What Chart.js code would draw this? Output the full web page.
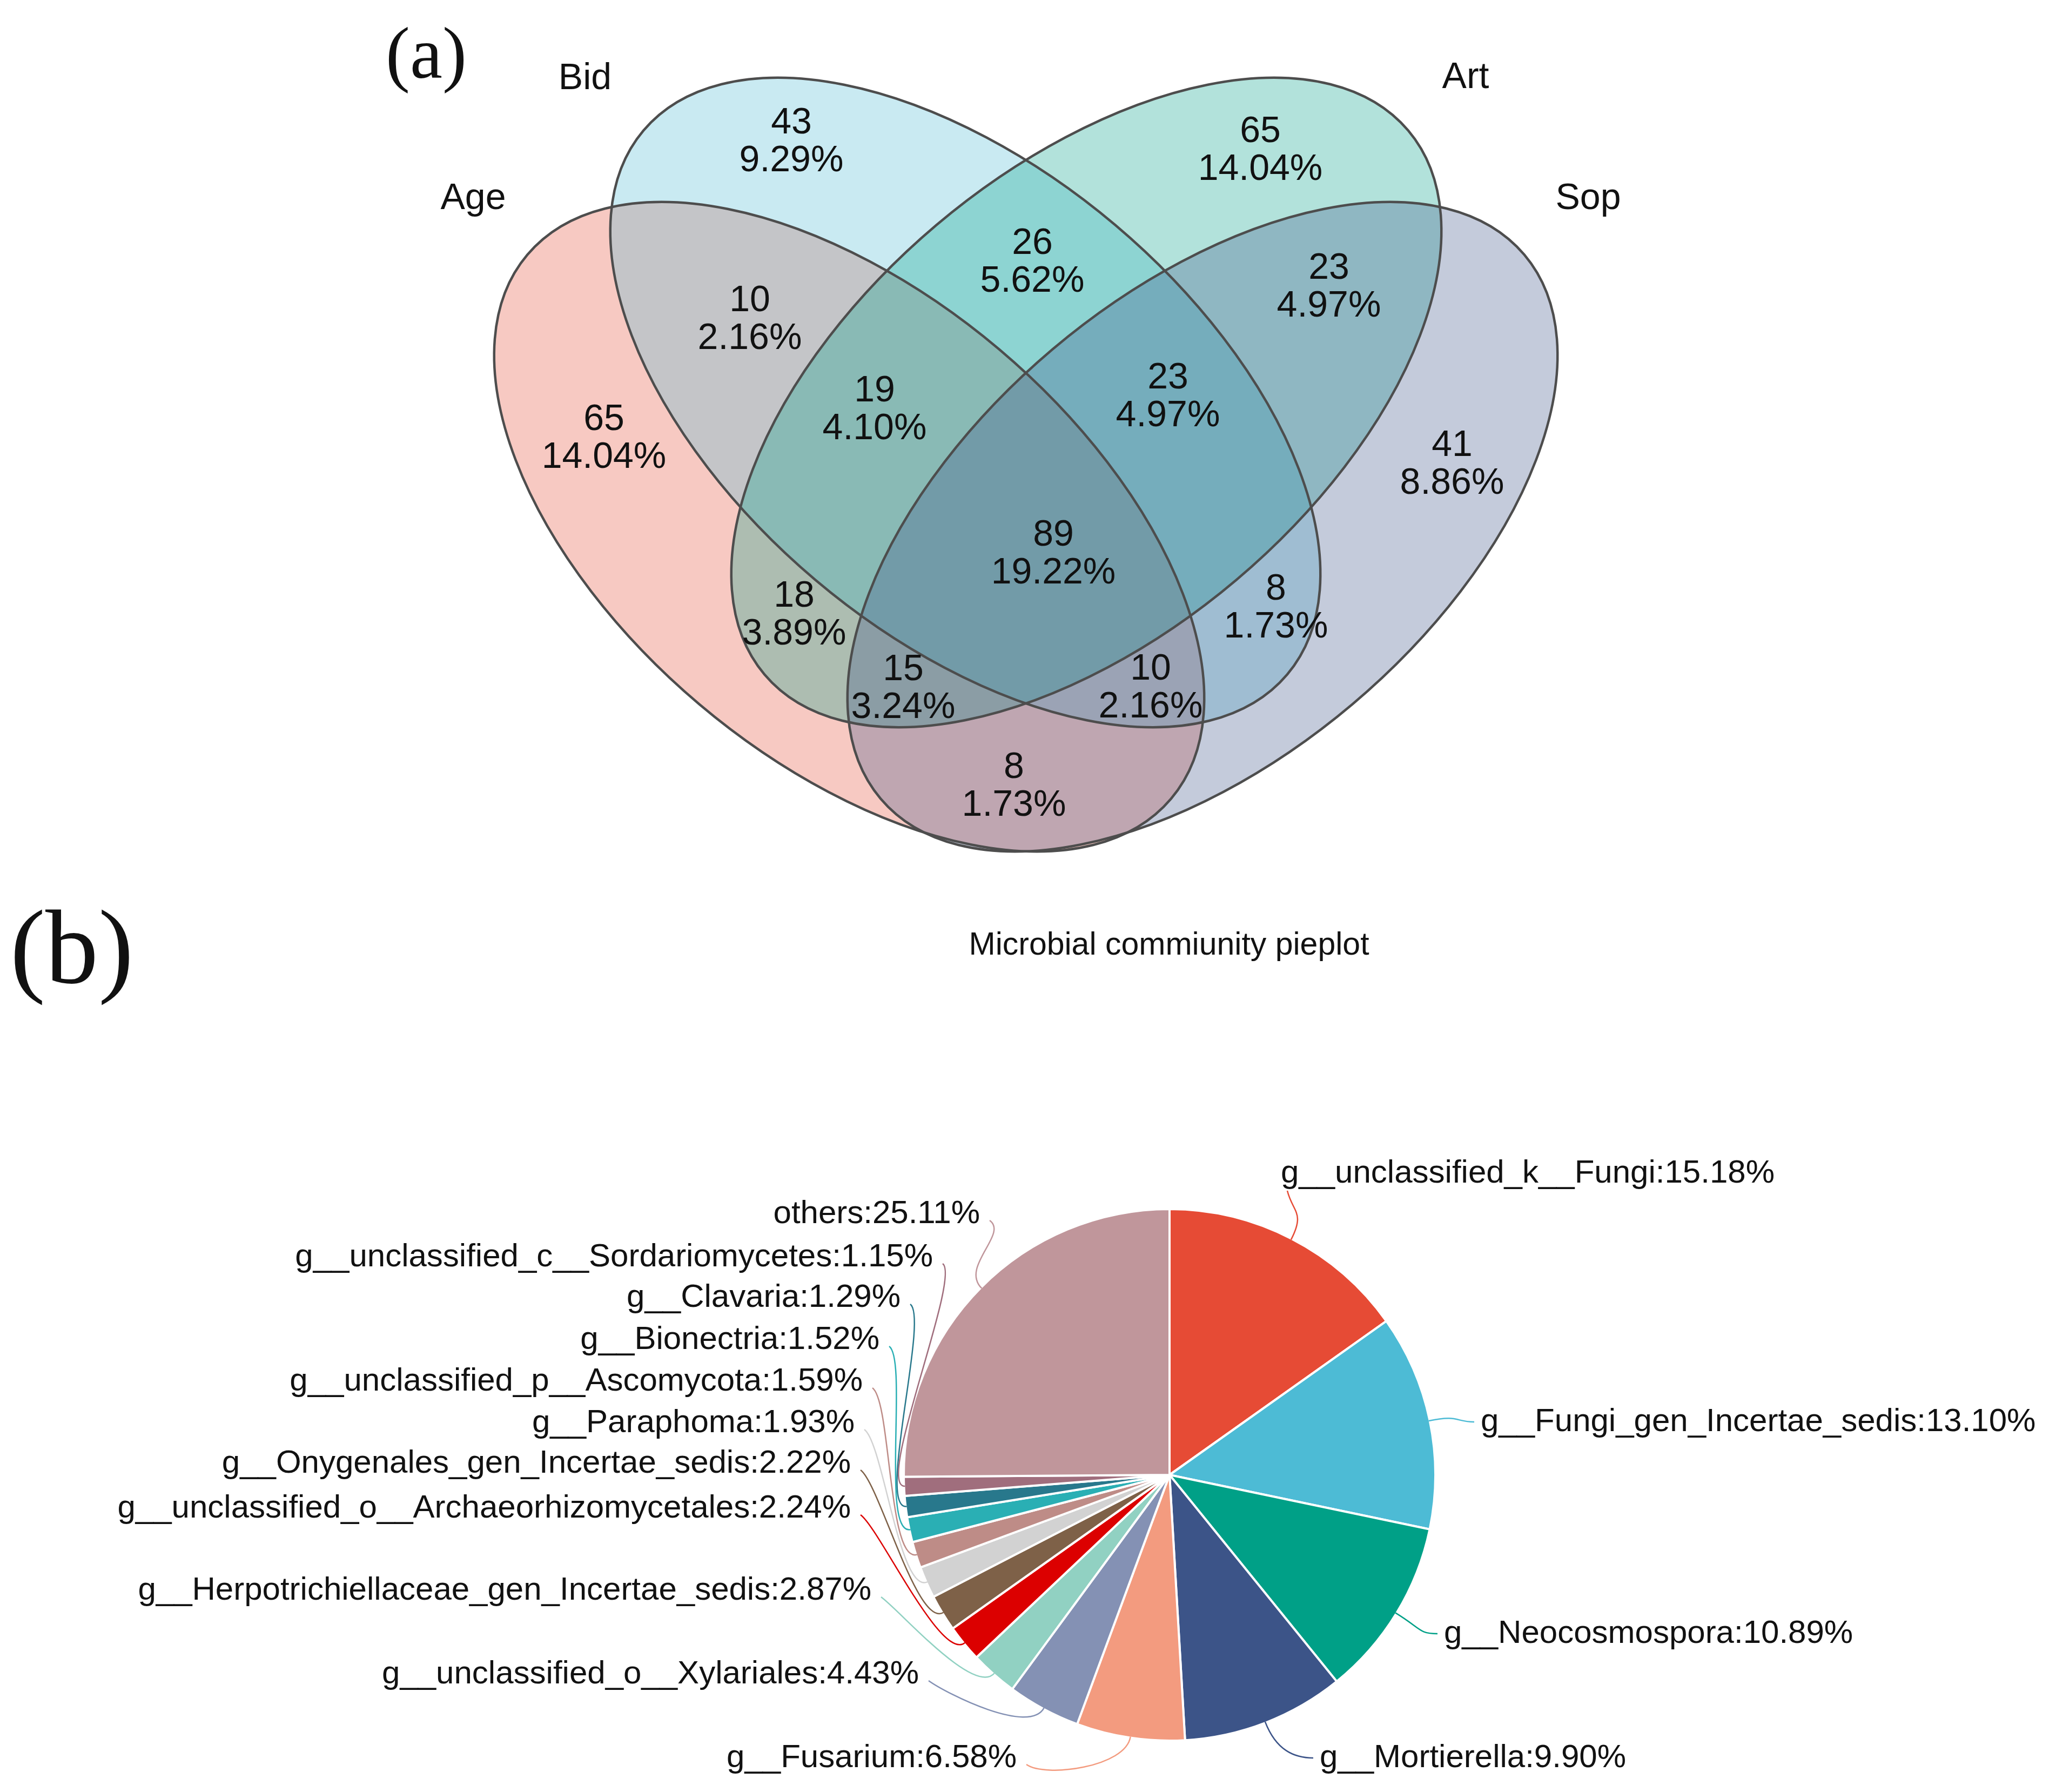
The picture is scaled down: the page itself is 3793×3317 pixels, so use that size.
<!DOCTYPE html>
<html><head><meta charset="utf-8">
<script src="https://cdn.jsdelivr.net/npm/chart.js@4.4.1/dist/chart.umd.min.js"></script>
<style>
html,body{margin:0;padding:0;background:#fff;}
#wrap{position:relative;width:3793px;height:3317px;background:#fff;}
canvas{position:absolute;left:0;top:0;}
</style></head><body>
<div id="wrap"><canvas id="venn" width="3793" height="3317"></canvas><canvas id="pie" width="3793" height="3317"></canvas></div>
<script>
// ---------------- DATA ----------------
// (a) Venn diagram
const vennSets = ['Age', 'Bid', 'Art', 'Sop'];
const vennRegions = ['Bid', 'Art', 'Age', 'Age&Bid', 'Bid&Art', 'Art&Sop', 'Sop', 'Age&Bid&Art', 'Bid&Art&Sop', 'Age&Bid&Art&Sop', 'Age&Art', 'Bid&Sop', 'Age&Art&Sop', 'Age&Bid&Sop', 'Age&Sop'];
const vennCounts = [43, 65, 65, 10, 26, 23, 41, 19, 23, 89, 18, 8, 15, 10, 8];
const vennPercents = ['9.29%', '14.04%', '14.04%', '2.16%', '5.62%', '4.97%', '8.86%', '4.10%', '4.97%', '19.22%', '3.89%', '1.73%', '3.24%', '2.16%', '1.73%'];

// (b) Pie chart
const pieTitle = 'Microbial commiunity pieplot';
const pieNames = ['g__unclassified_k__Fungi', 'g__Fungi_gen_Incertae_sedis', 'g__Neocosmospora', 'g__Mortierella', 'g__Fusarium', 'g__unclassified_o__Xylariales', 'g__Herpotrichiellaceae_gen_Incertae_sedis', 'g__unclassified_o__Archaeorhizomycetales', 'g__Onygenales_gen_Incertae_sedis', 'g__Paraphoma', 'g__unclassified_p__Ascomycota', 'g__Bionectria', 'g__Clavaria', 'g__unclassified_c__Sordariomycetes', 'others'];
const pieValues = [15.18, 13.10, 10.89, 9.90, 6.58, 4.43, 2.87, 2.24, 2.22, 1.93, 1.59, 1.52, 1.29, 1.15, 25.11];

// ---------------- LAYOUT / STYLE ----------------
const W = 3793, H = 3317;
const FONT = '"Liberation Sans", Arial, sans-serif';
const SERIF = '"Liberation Serif", "Times New Roman", serif';
// ellipses in data units (data units == page pixels)
const vennEllipses = [
  {cx: 1572, cy: 975, rx: 780, ry: 430, rot: 40.2},   // Age
  {cx: 1787, cy: 745, rx: 780, ry: 430, rot: 40.2},   // Bid
  {cx: 2011, cy: 745, rx: 780, ry: 430, rot: -40.2},  // Art
  {cx: 2226, cy: 975, rx: 780, ry: 430, rot: -40.2}   // Sop
];
const vennFill = ['rgba(230,75,53,0.3)', 'rgba(77,187,213,0.3)', 'rgba(0,160,135,0.3)', 'rgba(60,84,136,0.3)'];
const vennSetPos = [[876, 368], [1083, 146], [2713, 144], [2940, 368]];
const vennLabelPos = [[1465, 263], [2333, 279], [1118, 812], [1388, 592], [1911, 486], [2460, 532], [2688, 860], [1619, 759], [2162, 735], [1950, 1026], [1470, 1139], [2362, 1126], [1672, 1275], [2130, 1274], [1877, 1456]];

const pieColors = ['#E64B35', '#4DBBD5', '#00A087', '#3C5488', '#F39B7F', '#8491B4', '#91D1C2', '#DC0000', '#7E6148', '#D2D2D2', '#BE8C87', '#2AAFB4', '#28788C', '#A06E7D', '#C0969B'];
// label anchor: side 'r' -> left-aligned at x ; side 'l' -> right-aligned ending at x
const pieLabelPos = [
  ['r', 2371, 2172], ['r', 2741, 2632], ['r', 2673, 3024], ['r', 2443, 3254],
  ['l', 1882, 3254], ['l', 1701, 3099], ['l', 1613, 2944], ['l', 1575, 2792],
  ['l', 1575, 2709], ['l', 1582, 2634], ['l', 1597, 2557], ['l', 1628, 2480],
  ['l', 1667, 2402], ['l', 1727, 2327], ['l', 1814, 2247]
];
const PIE_CX = 2165, PIE_CY = 2730, PIE_SIDE = 988;

// ---------------- VENN CHART ----------------
const vennPlugin = {
  id: 'vennDraw',
  beforeDatasetsDraw(chart) {
    const {ctx, scales: {x, y}} = chart;
    const sx = Math.abs(x.getPixelForValue(1) - x.getPixelForValue(0));
    const sy = Math.abs(y.getPixelForValue(1) - y.getPixelForValue(0));
    ctx.save();
    vennEllipses.forEach((e, i) => {
      ctx.beginPath();
      ctx.ellipse(x.getPixelForValue(e.cx), y.getPixelForValue(e.cy), e.rx * sx, e.ry * sy, e.rot * Math.PI / 180, 0, Math.PI * 2);
      ctx.fillStyle = vennFill[i];
      ctx.fill();
    });
    vennEllipses.forEach((e) => {
      ctx.beginPath();
      ctx.ellipse(x.getPixelForValue(e.cx), y.getPixelForValue(e.cy), e.rx * sx, e.ry * sy, e.rot * Math.PI / 180, 0, Math.PI * 2);
      ctx.strokeStyle = '#4d4d4d';
      ctx.lineWidth = 4.5;
      ctx.stroke();
    });
    ctx.restore();
  },
  afterDatasetsDraw(chart) {
    const {ctx, scales: {x, y}} = chart;
    ctx.save();
    ctx.fillStyle = '#111';
    ctx.textAlign = 'center';
    ctx.textBaseline = 'middle';
    ctx.font = '68px ' + FONT;
    const pts = chart.getDatasetMeta(0).data;
    pts.forEach((p, i) => {
      ctx.fillText(String(vennCounts[i]), p.x, p.y - 35);
      ctx.fillText(vennPercents[i], p.x, p.y + 35);
    });
    vennSets.forEach((s, i) => {
      ctx.fillText(s, x.getPixelForValue(vennSetPos[i][0]), y.getPixelForValue(vennSetPos[i][1]));
    });
    ctx.font = '135px ' + SERIF;
    ctx.fillText('(a)', x.getPixelForValue(789), y.getPixelForValue(109));
    ctx.restore();
  }
};

new Chart(document.getElementById('venn'), {
  type: 'scatter',
  data: {
    labels: vennRegions,
    datasets: [{
      data: vennLabelPos.map(p => ({x: p[0], y: p[1]})),
      pointRadius: 0, showLine: false
    }]
  },
  options: {
    responsive: false, animation: false, devicePixelRatio: 1,
    layout: {padding: 0},
    scales: {
      x: {type: 'linear', min: 0, max: W, display: false},
      y: {type: 'linear', min: 0, max: H, reverse: true, display: false}
    },
    plugins: {legend: {display: false}, tooltip: {enabled: false}}
  },
  plugins: [vennPlugin]
});

// ---------------- PIE CHART ----------------
const piePlugin = {
  id: 'pieDraw',
  afterDatasetsDraw(chart) {
    const ctx = chart.ctx;
    const arcs = chart.getDatasetMeta(0).data;
    ctx.save();
    // leader lines
    arcs.forEach((a, i) => {
      const mid = (a.startAngle + a.endAngle) / 2;
      const r = a.outerRadius;
      const c = Math.cos(mid), s = Math.sin(mid);
      const p0 = [a.x + (r - 2) * c, a.y + (r - 2) * s];
      const p1 = [a.x + (r + 55) * c, a.y + (r + 55) * s];
      const [side, lx, ly] = pieLabelPos[i];
      let p2;
      if (side === 'r') {
        p2 = [lx - 12, ly];
        if (ly < a.y - r * 0.8) p2 = [lx + 12, ly + 32];
      } else {
        p2 = [lx + 18, ly + 12];
      }
      ctx.beginPath();
      ctx.moveTo(p0[0], p0[1]);
      const c2 = side === 'r' ? (ly < a.y - r * 0.8 ? [p2[0] + 10, p2[1] + 40] : [p2[0] - 35, p2[1]]) : [p2[0] + 35, p2[1] + 25];
      ctx.bezierCurveTo(p1[0], p1[1], c2[0], c2[1], p2[0], p2[1]);
      ctx.strokeStyle = pieColors[i];
      ctx.lineWidth = 2.5;
      ctx.stroke();
    });
    // labels
    ctx.fillStyle = '#111';
    ctx.textBaseline = 'middle';
    ctx.font = '60px ' + FONT;
    arcs.forEach((a, i) => {
      const [side, lx, ly] = pieLabelPos[i];
      ctx.textAlign = side === 'r' ? 'left' : 'right';
      ctx.fillText(pieNames[i] + ':' + pieValues[i].toFixed(2) + '%', lx, ly);
    });
    // title and panel tag
    ctx.textAlign = 'center';
    ctx.font = '59px ' + FONT;
    ctx.fillText(pieTitle, 2164, 1751);
    ctx.font = '196px ' + SERIF;
    ctx.fillText('(b)', 133, 1768);
    ctx.restore();
  }
};

new Chart(document.getElementById('pie'), {
  type: 'pie',
  data: {
    labels: pieNames,
    datasets: [{
      data: pieValues,
      backgroundColor: pieColors,
      borderColor: '#ffffff',
      borderWidth: 4
    }]
  },
  options: {
    responsive: false, animation: false, devicePixelRatio: 1,
    layout: {padding: {
      left: PIE_CX - PIE_SIDE / 2,
      right: W - (PIE_CX + PIE_SIDE / 2),
      top: PIE_CY - PIE_SIDE / 2,
      bottom: H - (PIE_CY + PIE_SIDE / 2)
    }},
    plugins: {legend: {display: false}, tooltip: {enabled: false}, title: {display: false}}
  },
  plugins: [piePlugin]
});
</script>
</body></html>
